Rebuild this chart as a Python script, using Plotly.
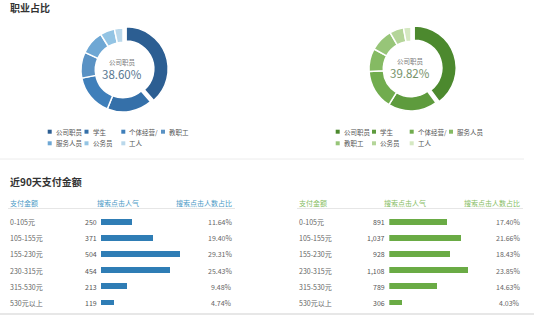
import plotly.graph_objects as go

W, H = 534, 315

# ---- data ----
occ_left = ["公司职员", "学生", "个体经营/", "教职工", "服务人员", "公务员", "工人"]
occ_left_pct = [38.60, 17.5, 15.8, 10.0, 9.2, 5.6, 3.3]
occ_left_colors = ["#2c5e92", "#3570a9", "#3f7fba", "#5a92c4", "#6ea7d4", "#93c4e4", "#bad8eb"]

occ_right = ["公司职员", "学生", "个体经营/", "服务人员", "教职工", "公务员", "工人"]
occ_right_pct = [39.82, 19.0, 15.2, 8.9, 8.8, 5.4, 2.9]
occ_right_colors = ["#4c892e", "#5e9b3d", "#71ac4e", "#85ba63", "#97c578", "#b4d599", "#d5e8c2"]

pay_bins = ["0-105元", "105-155元", "155-230元", "230-315元", "315-530元", "530元以上"]
left_clicks = ["250", "371", "504", "454", "213", "119"]
left_share = [11.64, 19.40, 29.31, 25.43, 9.48, 4.74]
right_clicks = ["891", "1,037", "928", "1,108", "789", "306"]
right_share = [17.40, 21.66, 18.43, 23.85, 14.63, 4.03]

headers = ["支付金额", "搜索点击人气", "搜索点击人数占比"]

FONT = "Noto Sans CJK SC, Noto Sans, sans-serif"

def px(x):
    return x / W

def py(y):
    return 1 - y / H

fig = go.Figure()

# ---- donuts ----
PULL = 0.08
R = 42.0
def donut(labels, values, colors, cx, cy):
    half = R * (1 + PULL)
    fig.add_trace(go.Pie(
        labels=labels, values=values, hole=0.66, sort=False,
        direction="clockwise", rotation=0,
        pull=[PULL] + [0] * (len(values) - 1),
        marker=dict(colors=colors, line=dict(color="white", width=1.5)),
        textinfo="none", showlegend=False,
        domain=dict(x=[px(cx - half), px(cx + half)], y=[py(cy + half), py(cy - half)]),
    ))

donut(occ_left, occ_left_pct, occ_left_colors, 123, 70)
donut(occ_right, occ_right_pct, occ_right_colors, 411, 69)

annotations = []
shapes = []

def center_text(cx, cy, label, val, color):
    annotations.append(dict(x=px(cx), y=py(cy - 8), xref="paper", yref="paper",
                            text=label, showarrow=False, xanchor="center", yanchor="middle",
                            font=dict(family=FONT, size=6.5, color="#7a7a7a")))
    annotations.append(dict(x=px(cx), y=py(cy + 4), xref="paper", yref="paper",
                            text=val, showarrow=False, xanchor="center", yanchor="middle",
                            font=dict(family=FONT, size=11.5, color=color)))

center_text(122, 70, occ_left[0], f"{occ_left_pct[0]:.2f}%", "#56768f")
center_text(410, 69, occ_right[0], f"{occ_right_pct[0]:.2f}%", "#76926a")

# ---- legends ----
def legend(labels, colors, xcols):
    rows_y = [131.7, 143.3]
    for i, (lab, col) in enumerate(zip(labels, colors)):
        r = 0 if i < 4 else 1
        c = i if i < 4 else i - 4
        x = xcols[c]
        y = rows_y[r]
        shapes.append(dict(type="rect", xref="paper", yref="paper",
                           x0=px(x - 2), x1=px(x + 2), y0=py(y + 2), y1=py(y - 2),
                           fillcolor=col, line=dict(width=0)))
        annotations.append(dict(x=px(x + 4), y=py(y), xref="paper", yref="paper",
                                text=lab, showarrow=False, xanchor="left", yanchor="middle",
                                font=dict(family=FONT, size=6.5, color="#555")))

legend(occ_left, occ_left_colors, [49.7, 86.5, 123.3, 163.0])
legend(occ_right, occ_right_colors, [337.7, 374.0, 411.7, 451.0])

# ---- titles ----
annotations.append(dict(x=px(8), y=py(7), xref="paper", yref="paper", text="<b>职业占比</b>",
                        showarrow=False, xanchor="left", yanchor="middle",
                        font=dict(family=FONT, size=10, color="#333")))
annotations.append(dict(x=px(8), y=py(181), xref="paper", yref="paper", text="<b>近90天支付金额</b>",
                        showarrow=False, xanchor="left", yanchor="middle",
                        font=dict(family=FONT, size=10, color="#333")))

# separator lines
shapes.append(dict(type="line", xref="paper", yref="paper", x0=0, x1=px(524), y0=py(159), y1=py(159),
                   line=dict(color="#ececec", width=1)))
shapes.append(dict(type="line", xref="paper", yref="paper", x0=0, x1=1, y0=py(314), y1=py(314),
                   line=dict(color="#cfcfcf", width=1)))

# ---- tables ----
ROW0, STEP = 222.3, 16.08
n = len(pay_bins)
ydom = [py(ROW0 + (n - 0.5) * STEP), py(ROW0 - 0.5 * STEP)]
idx = list(range(n))

def table(xaxis, yaxis, yref, left, val_right, pct_right,
          clicks, share, bar_color, head_color, head_mid):
    fig.add_trace(go.Bar(x=share, y=idx, orientation="h", width=0.36,
                         marker=dict(color=bar_color, line=dict(width=0)),
                         xaxis=xaxis, yaxis=yaxis, showlegend=False, hoverinfo="skip"))
    annotations.append(dict(x=px(left), y=py(203), xref="paper", yref="paper", text=headers[0],
                            showarrow=False, xanchor="left", yanchor="middle",
                            font=dict(family=FONT, size=7, color=head_color)))
    annotations.append(dict(x=px(head_mid), y=py(203), xref="paper", yref="paper", text=headers[1],
                            showarrow=False, xanchor="center", yanchor="middle",
                            font=dict(family=FONT, size=7, color=head_color)))
    annotations.append(dict(x=px(pct_right), y=py(203), xref="paper", yref="paper", text=headers[2],
                            showarrow=False, xanchor="right", yanchor="middle",
                            font=dict(family=FONT, size=7, color=head_color)))
    shapes.append(dict(type="line", xref="paper", yref="paper", x0=px(left), x1=px(pct_right + 1),
                       y0=py(208.5), y1=py(208.5), line=dict(color="#e6e6e6", width=1)))
    for i in idx:
        annotations.append(dict(x=px(left), y=i, xref="paper", yref=yref, text=pay_bins[i],
                                showarrow=False, xanchor="left", yanchor="middle",
                                font=dict(family=FONT, size=7, color="#666")))
        annotations.append(dict(x=px(val_right), y=i, xref="paper", yref=yref, text=clicks[i],
                                showarrow=False, xanchor="right", yanchor="middle",
                                font=dict(family=FONT, size=7, color="#555")))
        annotations.append(dict(x=px(pct_right), y=i, xref="paper", yref=yref, text=f"{share[i]:.2f}%",
                                showarrow=False, xanchor="right", yanchor="middle",
                                font=dict(family=FONT, size=7, color="#666")))

table("x", "y", "y", 8, 99, 234, left_clicks, left_share, "#2f7db5", "#4a9ac6", 118)
table("x2", "y2", "y2", 297, 387, 522, right_clicks, right_share, "#6aab45", "#86bd62", 405)

axis_common = dict(visible=False, fixedrange=True)
fig.update_layout(
    width=W, height=H, margin=dict(l=0, r=0, t=0, b=0),
    paper_bgcolor="white", plot_bgcolor="white",
    xaxis=dict(domain=[px(101), px(180)], range=[0, max(left_share)], **axis_common),
    yaxis=dict(domain=ydom, range=[n - 0.5, -0.5], **axis_common),
    xaxis2=dict(domain=[px(389.3), px(468.3)], range=[0, max(right_share)], **axis_common),
    yaxis2=dict(domain=ydom, range=[n - 0.5, -0.5], anchor="x2", **axis_common),
    annotations=annotations, shapes=shapes, bargap=0,
)

fig.write_html("out.html")
